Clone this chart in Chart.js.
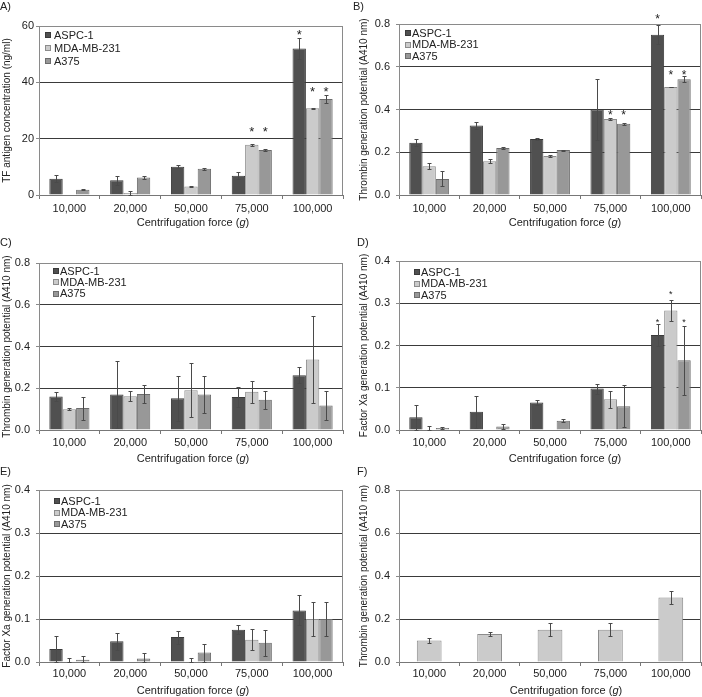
<!DOCTYPE html>
<html><head><meta charset="utf-8">
<script src="https://cdn.jsdelivr.net/npm/chart.js@4.4.0/dist/chart.umd.min.js"></script>
<style>
body{margin:0;background:#fff;}
#wrap{position:relative;width:702px;height:697px;overflow:hidden;background:#fff;font-family:"Liberation Sans",Arial,Helvetica,sans-serif;color:#222;}
canvas{position:absolute;}
.pl{position:absolute;font-size:11px;line-height:13px;white-space:nowrap;z-index:5;}
.xt{position:absolute;font-size:11px;line-height:13px;white-space:nowrap;transform:translate(-50%,-50%);z-index:5;}
</style></head><body>
<div id="wrap">
<canvas id="cA" width="351" height="230" style="left:0;top:0"></canvas>
<canvas id="cB" width="351" height="230" style="left:351px;top:0"></canvas>
<canvas id="cC" width="351" height="230" style="left:0;top:230px"></canvas>
<canvas id="cD" width="351" height="230" style="left:351px;top:230px"></canvas>
<canvas id="cE" width="351" height="237" style="left:0;top:460px"></canvas>
<canvas id="cF" width="351" height="237" style="left:351px;top:460px"></canvas>
<div class="pl" style="left:0;top:0">A)</div>
<div class="pl" style="left:353px;top:0">B)</div>
<div class="pl" style="left:0;top:236px">C)</div>
<div class="pl" style="left:357px;top:236px">D)</div>
<div class="pl" style="left:0;top:465px">E)</div>
<div class="pl" style="left:357px;top:465px">F)</div>
<div class="xt" style="left:193px;top:222px">Centrifugation force (<i>g</i>)</div>
<div class="xt" style="left:565px;top:222px">Centrifugation force (<i>g</i>)</div>
<div class="xt" style="left:193px;top:458px">Centrifugation force (<i>g</i>)</div>
<div class="xt" style="left:565px;top:458px">Centrifugation force (<i>g</i>)</div>
<div class="xt" style="left:193px;top:690px">Centrifugation force (<i>g</i>)</div>
<div class="xt" style="left:566px;top:690px">Centrifugation force (<i>g</i>)</div>
</div>
<script>
// ---------- DATA ----------
const categories = ['10,000', '20,000', '50,000', '75,000', '100,000'];
const seriesNames = ['ASPC-1', 'MDA-MB-231', 'A375'];

// A) TF antigen concentration (ng/ml)
const aASPC = [5.8, 5.2, 10.0, 6.8, 52.0];
const aASPCerr = [1.2, 1.7, 0.5, 1.2, 3.7];
const aMDA = [0, 0.7, 3.0, 17.8, 30.8];
const aMDAerr = [0, 0.7, 0.2, 0.4, 0.2];
const aA375 = [1.9, 6.2, 9.3, 16.0, 34.1];
const aA375err = [0.2, 0.4, 0.4, 0.4, 1.4];
const aStarASPC = [null, null, null, null, 58];
const aStarMDA = [null, null, null, 23.8, 38];
const aStarA375 = [null, null, null, 23.8, 38];

// B) Thrombin generation potential
const bASPC = [0.245, 0.325, 0.262, 0.40, 0.75];
const bASPCerr = [0.015, 0.018, 0.003, 0.143, 0.043];
const bMDA = [0.135, 0.158, 0.182, 0.355, 0.505];
const bMDAerr = [0.015, 0.01, 0.003, 0.005, 0.002];
const bA375 = [0.075, 0.22, 0.21, 0.333, 0.542];
const bA375err = [0.035, 0.005, 0.002, 0.005, 0.015];
const bStarASPC = [null, null, null, null, 0.839];
const bStarMDA = [null, null, null, 0.39, 0.577];
const bStarA375 = [null, null, null, 0.39, 0.577];

// C) Thrombin generation potential
const cASPC = [0.16, 0.17, 0.152, 0.158, 0.262];
const cASPCerr = [0.023, 0.16, 0.107, 0.047, 0.038];
const cMDA = [0.10, 0.162, 0.19, 0.183, 0.338];
const cMDAerr = [0.003, 0.023, 0.13, 0.054, 0.207];
const cA375 = [0.105, 0.172, 0.17, 0.145, 0.117];
const cA375err = [0.055, 0.043, 0.09, 0.043, 0.07];

// D) Factor Xa generation potential
const dASPC = [0.03, 0.043, 0.065, 0.098, 0.225];
const dASPCerr = [0.03, 0.038, 0.007, 0.012, 0.025];
const dMDA = [0, 0, 0.001, 0.073, 0.283];
const dMDAerr = [0.01, 0, 0, 0.02, 0.025];
const dA375 = [0.005, 0.008, 0.022, 0.056, 0.165];
const dA375err = [0.003, 0.006, 0.004, 0.05, 0.082];
const dStarASPC = [null, null, null, null, 0.262];
const dStarMDA = [null, null, null, null, 0.327];
const dStarA375 = [null, null, null, null, 0.262];

// E) Factor Xa generation potential
const eASPC = [0.03, 0.048, 0.058, 0.075, 0.12];
const eASPCerr = [0.03, 0.02, 0.015, 0.01, 0.035];
const eMDA = [0, 0, 0, 0.052, 0.10];
const eMDAerr = [0.01, 0, 0.01, 0.025, 0.04];
const eA375 = [0.005, 0.008, 0.022, 0.045, 0.10];
const eA375err = [0.01, 0.012, 0.021, 0.03, 0.04];

// F) Thrombin generation potential (single series)
const fVal = [0.10, 0.13, 0.15, 0.15, 0.30];
const fErr = [0.01, 0.01, 0.03, 0.03, 0.03];

// ---------- STYLE ----------
const FONT = '"Liberation Sans", Arial, Helvetica, sans-serif';
const COLORS = [
  {bg: '#505050', bd: '#3a3a3a'},
  {bg: '#cbcbcb', bd: '#8c8c8c'},
  {bg: '#989898', bd: '#6c6c6c'}
];

function ds(i, data, errors, stars) {
  return {
    label: seriesNames[i], data: data, errors: errors, stars: stars || null,
    backgroundColor: COLORS[i].bg, borderColor: COLORS[i].bd, borderWidth: 1,
    categoryPercentage: 0.66, barPercentage: 1.0
  };
}

const panelPlugin = {
  id: 'panelExtras',
  afterDatasetsDraw(chart, args, opts) {
    const ctx = chart.ctx, ca = chart.chartArea, y = chart.scales.y;
    ctx.save();
    // error bars
    chart.data.datasets.forEach((d, di) => {
      const meta = chart.getDatasetMeta(di);
      meta.data.forEach((el, j) => {
        const v = d.data[j], e = d.errors ? d.errors[j] : 0;
        if (!e) return;
        const x = Math.round(el.x) + 0.5;
        const yt = Math.round(y.getPixelForValue(v + e)) + 0.5;
        const yb = Math.round(y.getPixelForValue(Math.max(0, v - e))) + 0.5;
        ctx.strokeStyle = '#4a4a4a'; ctx.lineWidth = 1;
        ctx.beginPath();
        ctx.moveTo(x, yt); ctx.lineTo(x, yb);
        ctx.moveTo(x - 2, yt); ctx.lineTo(x + 2, yt);
        ctx.moveTo(x - 2, yb); ctx.lineTo(x + 2, yb);
        ctx.stroke();
      });
    });
    // asterisks
    const fs = opts.starSize || 13;
    ctx.fillStyle = '#222';
    ctx.font = fs + 'px ' + FONT;
    ctx.textAlign = 'center'; ctx.textBaseline = 'alphabetic';
    chart.data.datasets.forEach((d, di) => {
      if (!d.stars) return;
      const meta = chart.getDatasetMeta(di);
      meta.data.forEach((el, j) => {
        const s = d.stars[j];
        if (s === null || s === undefined) return;
        const yc = y.getPixelForValue(s);
        ctx.fillText('*', el.x, yc + 0.58 * fs);
      });
    });
    // right frame
    ctx.strokeStyle = '#8a8a8a'; ctx.lineWidth = 1;
    ctx.beginPath();
    const rx = Math.round(ca.right) - 0.5;
    ctx.moveTo(rx, Math.round(ca.top) + 0.5); ctx.lineTo(rx, ca.bottom);
    ctx.stroke();
    // legend
    const lg = opts.legend;
    if (lg) {
      ctx.font = '11px ' + FONT; ctx.textAlign = 'left'; ctx.textBaseline = 'middle';
      chart.data.datasets.forEach((d, i) => {
        const cy = ca.top + lg.y + i * lg.sp;
        ctx.fillStyle = d.backgroundColor;
        ctx.fillRect(ca.left + lg.sx, Math.round(cy - 3), 6, 6);
        ctx.strokeStyle = d.borderColor;
        ctx.strokeRect(ca.left + lg.sx + 0.5, Math.round(cy - 3) + 0.5, 5, 5);
        ctx.fillStyle = '#222';
        ctx.fillText(d.label, ca.left + lg.tx, cy + 0.5);
      });
    }
    ctx.restore();
  }
};

function panel(id, box, y, datasets, legend, starSize) {
  const maxV = y.max;
  return new Chart(document.getElementById(id), {
    type: 'bar',
    data: {labels: categories, datasets: datasets},
    options: {
      responsive: false, animation: false, devicePixelRatio: 1,
      layout: {padding: {left: 0, top: box.top, right: box.w - box.right, bottom: 0}},
      plugins: {legend: {display: false}, tooltip: {enabled: false},
        panelExtras: {legend: legend, starSize: starSize}},
      scales: {
        x: {
          type: 'category',
          grid: {offset: true, drawOnChartArea: false, drawTicks: true, tickLength: 4, tickColor: '#777'},
          border: {color: '#777'},
          ticks: {font: {size: 11, family: FONT}, color: '#222', padding: y.xPad, maxRotation: 0, autoSkip: false},
          afterFit(s) { s.height = box.h - box.bottom; }
        },
        y: {
          min: 0, max: maxV,
          ticks: {stepSize: y.step, font: {size: 11, family: FONT}, color: '#222', padding: y.tickPad,
            callback: (v) => Number(v).toFixed(y.dec)},
          grid: {
            color: (c) => Math.abs(c.tick.value - maxV) < 1e-9 ? '#8a8a8a' : (Math.abs(c.tick.value) < 1e-9 ? '#777' : '#3a3a3a'),
            tickColor: '#8a8a8a', tickLength: y.tickLen, lineWidth: 1
          },
          border: {color: '#8a8a8a'},
          title: {display: true, text: y.title, font: {size: 10, family: FONT}, color: '#222', padding: {top: y.titlePad, bottom: 0}},
          afterFit(s) { s.width = box.left; }
        }
      }
    },
    plugins: [panelPlugin]
  });
}

const T_THR = 'Thrombin generation potential (A410 nm)';
const T_FXA = 'Factor Xa generation potential (A410 nm)';

panel('cA', {w: 351, h: 230, left: 39, top: 26, right: 343, bottom: 195},
  {max: 60, step: 20, dec: 0, title: 'TF antigen concentration (ng/ml)', titlePad: 1, tickLen: 3, tickPad: 2, xPad: 3},
  [ds(0, aASPC, aASPCerr, aStarASPC), ds(1, aMDA, aMDAerr, aStarMDA), ds(2, aA375, aA375err, aStarA375)],
  {sx: 6, tx: 15, y: 9, sp: 13}, 13);

panel('cB', {w: 351, h: 230, left: 48, top: 24, right: 350, bottom: 195},
  {max: 0.8, step: 0.2, dec: 1, title: T_THR, titlePad: 7, tickLen: 3, tickPad: 6, xPad: 3},
  [ds(0, bASPC, bASPCerr, bStarASPC), ds(1, bMDA, bMDAerr, bStarMDA), ds(2, bA375, bA375err, bStarA375)],
  {sx: 6, tx: 13, y: 9, sp: 11.7}, 12);

panel('cC', {w: 351, h: 230, left: 39, top: 33, right: 343, bottom: 200},
  {max: 0.8, step: 0.2, dec: 1, title: T_THR, titlePad: 1, tickLen: 3, tickPad: 6, xPad: 2},
  [ds(0, cASPC, cASPCerr), ds(1, cMDA, cMDAerr), ds(2, cA375, cA375err)],
  {sx: 14, tx: 21, y: 8, sp: 11.3}, 12);

panel('cD', {w: 351, h: 230, left: 48, top: 31, right: 350, bottom: 200},
  {max: 0.4, step: 0.1, dec: 1, title: T_FXA, titlePad: 7, tickLen: 3, tickPad: 6, xPad: 2},
  [ds(0, dASPC, dASPCerr, dStarASPC), ds(1, dMDA, dMDAerr, dStarMDA), ds(2, dA375, dA375err, dStarA375)],
  {sx: 15, tx: 22, y: 11, sp: 11.5}, 9);

panel('cE', {w: 351, h: 237, left: 39, top: 30, right: 343, bottom: 202},
  {max: 0.4, step: 0.1, dec: 1, title: T_FXA, titlePad: 1, tickLen: 3, tickPad: 6, xPad: 1},
  [ds(0, eASPC, eASPCerr), ds(1, eMDA, eMDAerr), ds(2, eA375, eA375err)],
  {sx: 15, tx: 22, y: 11, sp: 11.5}, 12);

const fDs = ds(1, fVal, fErr);
fDs.label = 'Thrombin generation';
fDs.categoryPercentage = 0.41;
panel('cF', {w: 351, h: 237, left: 48, top: 30, right: 350, bottom: 202},
  {max: 0.8, step: 0.2, dec: 1, title: T_THR, titlePad: 7, tickLen: 3, tickPad: 6, xPad: 1},
  [fDs], null, 12);
</script>
</body></html>
